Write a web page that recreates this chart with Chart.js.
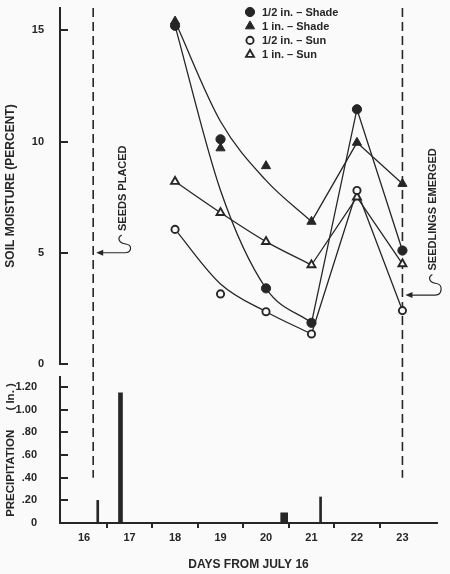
<!DOCTYPE html>
<html>
<head>
<meta charset="utf-8">
<script src="https://cdn.jsdelivr.net/npm/chart.js@4.4.1/dist/chart.umd.min.js"></script>
<style>
  html, body { margin: 0; padding: 0; background: #fafafa; }
  #caixa { width: 450px; height: 574px; }
</style>
</head>
<body>
<div id="caixa"><canvas id="grafico" width="450" height="574"></canvas></div>
<script>
// leituras de umidade do solo (dias a partir de 16 de julho)
const dias = [18, 19, 20, 21, 22, 23];
const nomesSeries = ["1/2 in. – Shade", "1 in. – Shade", "1/2 in. – Sun", "1 in. – Sun"];
const meioSombra = [15.2, 10.1, 3.4, 1.85, 11.45, 5.1];
const umSombra = [15.4, 9.7, 8.9, 6.4, 9.95, 8.1];
const meioSol = [6.05, 3.15, 2.35, 1.35, 7.8, 2.4];
const umSol = [8.2, 6.8, 5.5, 4.45, 7.5, 4.5];

// curvas ajustadas entre os dias 18 e 21
const diasCurva = [18, 19, 20, 21];
const curvaMeioSombra = [15.2, 7.8, 3.4, 1.85];
const curvaUmSombra = [15.4, 10.9, 8.25, 6.4];
const curvaMeioSol = [6.05, 3.6, 2.35, 1.35];
const curvaUmSol = [8.2, 6.8, 5.5, 4.45];

// precipitação (in.)
const diasChuva = [16.3, 16.8, 20.4, 21.2];
const chuva = [0.20, 1.15, 0.09, 0.23];

// eixos
const ticksDias = [16, 17, 18, 19, 20, 21, 22, 23];
const ticksUmidade = [0, 5, 10, 15];
const ticksChuva = [0, 0.2, 0.4, 0.6, 0.8, 1.0, 1.2];
const rotulosChuva = ["0", ".20", ".40", ".60", ".80", "1.00", "1.20"];

// linhas tracejadas e notas
const diasReferencia = [16.2, 23.0];
const fimReferencia = 0.4;
const notas = [
  { texto: "SEEDS PLACED", dia: 16.85, valor: 7.9, diaSeta: 16.2, valorSeta: 5.0 },
  { texto: "SEEDLINGS EMERGED", dia: 23.68, valor: 6.95, diaSeta: 23.0, valorSeta: 3.1 }
];

const cor = "#262626";
const fundo = "#fafafa";
const fonte = '"Liberation Sans", Arial, sans-serif';
const estilos = [
  { forma: "circle", cheio: true, raio: 4.6 },
  { forma: "triangle", cheio: true, raio: 5.3 },
  { forma: "circle", cheio: false, raio: 3.6 },
  { forma: "triangle", cheio: false, raio: 4.6 }
];
const largurasBarras = [2, 4, 7, 2];

Chart.defaults.font.family = fonte;
Chart.defaults.font.size = 11;
Chart.defaults.font.weight = "bold";
Chart.defaults.color = cor;

function pontos(xs, ys) {
  return xs.map((x, i) => ({ x: x, y: ys[i] }));
}

const medidas = [meioSombra, umSombra, meioSol, umSol];
const curvas = [curvaMeioSombra, curvaUmSombra, curvaMeioSol, curvaUmSol];
const conjuntos = [];

medidas.forEach((serie, i) => {
  const e = estilos[i];
  conjuntos.push({
    label: nomesSeries[i],
    data: pontos(dias, serie),
    yAxisID: "yUmidade",
    showLine: false,
    pointStyle: e.forma,
    pointRadius: e.raio,
    pointBorderWidth: e.cheio ? 1 : 1.9,
    pointBorderColor: cor,
    pointBackgroundColor: e.cheio ? cor : fundo
  });
});

curvas.forEach((curva, i) => {
  conjuntos.push({
    data: pontos(diasCurva, curva),
    yAxisID: "yUmidade",
    borderColor: cor,
    borderWidth: 1.3,
    cubicInterpolationMode: "monotone",
    pointRadius: 0
  });
  conjuntos.push({
    data: pontos(dias.slice(3), medidas[i].slice(3)),
    yAxisID: "yUmidade",
    borderColor: cor,
    borderWidth: 1.3,
    tension: 0,
    pointRadius: 0
  });
});

diasChuva.forEach((d, i) => {
  conjuntos.push({
    type: "bar",
    data: [{ x: d, y: chuva[i] }],
    yAxisID: "yChuva",
    backgroundColor: cor,
    barThickness: largurasBarras[i],
    grouped: false
  });
});

function desenharMarcador(ctx, e, x, y) {
  ctx.beginPath();
  if (e.forma === "circle") {
    ctx.arc(x, y, e.raio, 0, Math.PI * 2);
  } else {
    ctx.moveTo(x, y - e.raio);
    ctx.lineTo(x + 0.866 * e.raio, y + 0.5 * e.raio);
    ctx.lineTo(x - 0.866 * e.raio, y + 0.5 * e.raio);
    ctx.closePath();
  }
  ctx.fillStyle = e.cheio ? cor : fundo;
  ctx.fill();
  ctx.lineWidth = e.cheio ? 1 : 1.9;
  ctx.strokeStyle = cor;
  ctx.stroke();
}

const linhasReferencia = {
  id: "linhasReferencia",
  beforeDatasetsDraw(chart) {
    const { ctx, chartArea, scales } = chart;
    ctx.save();
    ctx.strokeStyle = cor;
    ctx.lineWidth = 1.6;
    ctx.setLineDash([9, 5]);
    diasReferencia.forEach(d => {
      const x = scales.x.getPixelForValue(d);
      ctx.beginPath();
      ctx.moveTo(x, chartArea.top);
      ctx.lineTo(x, scales.yChuva.getPixelForValue(fimReferencia));
      ctx.stroke();
    });
    ctx.restore();
  }
};

const anotacoes = {
  id: "anotacoes",
  afterDraw(chart) {
    const { ctx, chartArea, scales } = chart;
    ctx.save();
    ctx.font = "bold 11px " + fonte;

    // notas com setas
    notas.forEach(n => {
      const x = scales.x.getPixelForValue(n.dia);
      const y = scales.yUmidade.getPixelForValue(n.valor);
      const w = ctx.measureText(n.texto).width;
      ctx.save();
      ctx.translate(x, y);
      ctx.rotate(-Math.PI / 2);
      ctx.textAlign = "center";
      ctx.textBaseline = "middle";
      ctx.fillStyle = cor;
      ctx.fillText(n.texto, 0, 0);
      ctx.restore();

      const sx = x - 1, sy = y + w / 2 + 4;
      const px = scales.x.getPixelForValue(n.diaSeta) + 3;
      const py = scales.yUmidade.getPixelForValue(n.valorSeta);
      ctx.strokeStyle = cor;
      ctx.lineWidth = 1.2;
      ctx.beginPath();
      ctx.moveTo(sx, sy);
      ctx.bezierCurveTo(sx - 5, sy + 3, sx - 3, sy + 8, sx + 4, sy + 9);
      ctx.bezierCurveTo(sx + 11, sy + 10, sx + 10, py, sx + 3, py);
      ctx.lineTo(px + 6, py);
      ctx.stroke();
      ctx.fillStyle = cor;
      ctx.beginPath();
      ctx.moveTo(px, py);
      ctx.lineTo(px + 7, py - 3);
      ctx.lineTo(px + 7, py + 3);
      ctx.closePath();
      ctx.fill();
    });

    // legenda
    const x0 = chartArea.left + 190, y0 = chartArea.top + 4;
    nomesSeries.forEach((nome, i) => {
      const y = y0 + i * 14.2;
      desenharMarcador(ctx, estilos[i], x0, y);
      ctx.fillStyle = cor;
      ctx.textAlign = "left";
      ctx.textBaseline = "middle";
      ctx.fillText(nome, x0 + 12, y + 0.5);
    });
    ctx.restore();
  }
};

const marcasDias = ticksDias.flatMap((d, i) => i < ticksDias.length - 1 ? [d, d + 0.5] : [d]);

new Chart(document.getElementById("grafico"), {
  type: "line",
  data: { datasets: conjuntos },
  options: {
    responsive: false,
    animation: false,
    events: [],
    devicePixelRatio: 1,
    layout: { padding: { top: 8, right: 13, left: 0, bottom: 0 } },
    plugins: { legend: { display: false }, tooltip: { enabled: false } },
    scales: {
      x: {
        type: "linear",
        position: "bottom",
        offset: false,
        min: 15.47,
        max: 23.76,
        afterBuildTicks: s => { s.ticks = marcasDias.map(v => ({ value: v })); },
        afterFit: s => { s.height = 51; s.paddingLeft = 0; s.paddingRight = 0; },
        ticks: {
          autoSkip: false,
          maxRotation: 0,
          padding: 3,
          callback: v => Number.isInteger(v) ? String(v) : ""
        },
        grid: {
          offset: false,
          drawOnChartArea: false,
          tickLength: 5,
          lineWidth: 2,
          color: c => (c.tick && !Number.isInteger(c.tick.value)) ? cor : "rgba(0,0,0,0)"
        },
        border: { color: cor, width: 2 },
        title: { display: true, text: "DAYS FROM JULY 16", font: { size: 12 }, padding: { top: 0, bottom: 2 } }
      },
      yChuva: {
        type: "linear",
        position: "left",
        stack: "esquerda",
        stackWeight: 146,
        min: 0,
        max: 1.29,
        afterBuildTicks: s => { s.ticks = ticksChuva.map(v => ({ value: v })); },
        afterFit: s => { s.width = 60; s.paddingTop = 0; s.paddingBottom = 0; },
        ticks: { autoSkip: false, padding: 31, callback: (v, i) => rotulosChuva[i] },
        grid: { drawOnChartArea: false, tickLength: -8, lineWidth: 2, color: cor },
        border: { color: cor, width: 2 },
        title: { display: true, text: "PRECIPITATION      ( In. )", font: { size: 11.5 }, padding: { top: 4, bottom: 0 } }
      },
      yVao: {
        type: "linear",
        position: "left",
        stack: "esquerda",
        stackWeight: 13,
        afterFit: s => { s.width = 60; s.paddingTop = 0; s.paddingBottom = 0; },
        ticks: { display: false },
        grid: { display: false },
        border: { display: false }
      },
      yUmidade: {
        type: "linear",
        position: "left",
        stack: "esquerda",
        stackWeight: 356,
        min: 0,
        max: 16,
        afterBuildTicks: s => { s.ticks = ticksUmidade.map(v => ({ value: v })); },
        afterFit: s => { s.width = 60; s.paddingTop = 0; s.paddingBottom = 0; },
        ticks: { autoSkip: false, padding: 24 },
        grid: { drawOnChartArea: false, tickLength: -8, lineWidth: 2, color: cor },
        border: { color: cor, width: 2 },
        title: { display: true, text: "SOIL MOISTURE (PERCENT)", font: { size: 12 }, padding: { top: 3, bottom: 0 } }
      }
    }
  },
  plugins: [linhasReferencia, anotacoes]
});
</script>
</body>
</html>
